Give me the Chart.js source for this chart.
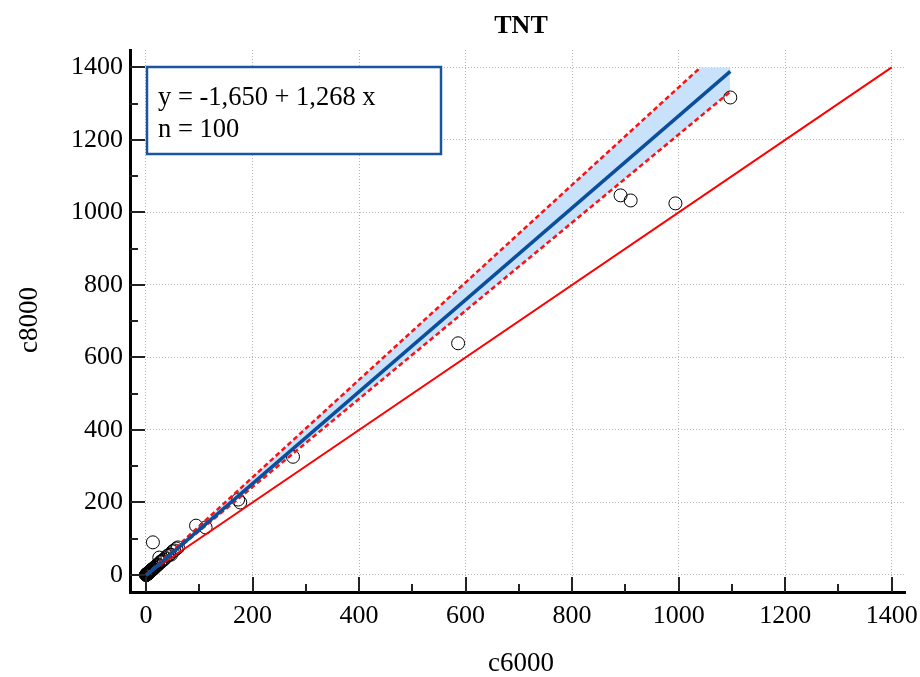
<!DOCTYPE html>
<html>
<head>
<meta charset="utf-8">
<title>TNT</title>
<script src="https://cdn.jsdelivr.net/npm/chart.js@4.4.1/dist/chart.umd.min.js"></script>
<style>
  html, body { margin: 0; padding: 0; background: #fff; }
  canvas { display: block; }
</style>
</head>
<body>
<canvas id="chart" width="920" height="677"></canvas>
<script>
'use strict';

// measured points, c6000 vs c8000 (n = 100, most of them piled up near the origin)
var pointsX = [1097, 891, 910, 994, 586, 276, 173, 177, 94, 112, 13,
  0.2, 0.3, 0.5, 0.6, 0.8, 1.0, 1.1, 1.2, 1.4, 1.5,
  1.7, 1.8, 2.0, 2.1, 2.2, 2.4, 2.5, 2.6, 2.8, 3.0,
  3.1, 3.2, 3.4, 3.5, 3.7, 3.8, 3.9, 4.0, 4.2, 4.3,
  4.5, 4.6, 4.8, 5.0, 5.2, 5.3, 5.5, 5.6, 5.8, 6.0,
  6.2, 6.4, 6.6, 6.8, 7.0, 7.2, 7.5, 7.6, 8.0, 8.3,
  8.5, 8.8, 9.0, 9.4, 9.8, 10.3, 11.0, 11.6, 12.2, 13.0,
  14.0, 15.2, 16.5, 18.0, 19.5, 21.0, 23.0, 25.0, 27.0, 28.0,
  30.0, 33.0, 36.0, 40.0, 44.0, 47.0, 50.0, 53.0, 57.0, 60.0,
  2.3, 4.1, 6.5, 1.3, 3.6, 7.8, 0.9, 5.1, 9.2];
var pointsY = [1317, 1047, 1033, 1025, 639, 326, 208, 200, 136, 131, 90,
  0.4, 0.1, 0.8, 0.5, 1.2, 0.9, 1.6, 1.3, 1.9, 1.6,
  2.3, 2.0, 2.7, 2.4, 3.0, 2.8, 3.3, 3.5, 3.4, 4.0,
  3.7, 4.3, 4.0, 4.6, 4.4, 5.1, 4.7, 5.3, 5.0, 5.7,
  5.4, 6.1, 5.8, 6.6, 6.3, 7.0, 6.6, 7.4, 7.0, 7.9,
  7.5, 8.4, 7.9, 9.0, 8.5, 9.5, 9.0, 10.0, 9.7, 11.0,
  10.3, 11.6, 11.0, 12.4, 12.0, 13.6, 13.4, 15.3, 14.8, 17.1,
  16.9, 20.0, 20.2, 23.0, 25.6, 27.2, 28.8, 48.0, 34.9, 37.0,
  38.5, 42.0, 46.0, 52.5, 56.0, 56.0, 65.0, 67.6, 72.9, 76.0,
  2.6, 5.6, 8.0, 1.6, 4.9, 9.9, 1.3, 6.6, 11.8];

// regression line y = -1,650 + 1,268 x over the range of x
var fitX = [0, 1097];
var fitY = [-1.7, 1389];

// confidence band, upper edge stops at the 1400 line
var upperX = [0, 300, 600, 800, 1000, 1041];
var upperY = [0, 404, 807, 1076, 1345, 1400];
var lowerX = [0, 300, 600, 800, 1000, 1097];
var lowerY = [0, 364, 729, 972, 1215, 1333];
var bandTopX = [0, 300, 600, 800, 1000, 1041, 1097];
var bandTopY = [0, 404, 807, 1076, 1345, 1400, 1400];

// line of identity
var identX = [0, 1400];
var identY = [0, 1400];

var tickValues = [0, 200, 400, 600, 800, 1000, 1200, 1400];
var minorValues = [100, 300, 500, 700, 900, 1100, 1300];

var fitText = ['y = -1,650 + 1,268 x', 'n = 100'];
var titleText = 'TNT';
var xTitle = 'c6000';
var yTitle = 'c8000';

function toXY(xs, ys) {
  var out = [];
  for (var i = 0; i < xs.length; i++) {
    out.push({ x: xs[i], y: ys[i] });
  }
  return out;
}

var SERIF = "'Liberation Serif', 'Times New Roman', serif";

// titles, the fit box and the inward tick marks
var decorPlugin = {
  id: 'decor',
  afterDraw: function (chart) {
    var ctx = chart.ctx;
    var area = chart.chartArea;
    var xs = chart.scales.x;
    var ys = chart.scales.y;
    ctx.save();

    // tick marks pointing into the plot
    ctx.strokeStyle = '#222';
    ctx.lineWidth = 2;
    var all = tickValues.concat(minorValues);
    for (var i = 0; i < all.length; i++) {
      var v = all[i];
      var len = (v % 200 === 0) ? 15 : 8;
      var px = Math.round(xs.getPixelForValue(v));
      ctx.beginPath();
      ctx.moveTo(px, area.bottom);
      ctx.lineTo(px, area.bottom - len);
      ctx.stroke();
      var py = Math.round(ys.getPixelForValue(v));
      ctx.beginPath();
      ctx.moveTo(area.left, py);
      ctx.lineTo(area.left + len, py);
      ctx.stroke();
    }

    // chart title
    ctx.fillStyle = '#000';
    ctx.font = 'bold 26px ' + SERIF;
    ctx.textAlign = 'center';
    ctx.textBaseline = 'middle';
    ctx.fillText(titleText, 521, 26);

    // axis titles
    ctx.font = '27px ' + SERIF;
    ctx.fillText(xTitle, 521, 664);
    ctx.save();
    ctx.translate(30, 320);
    ctx.rotate(-Math.PI / 2);
    ctx.fillText(yTitle, 0, 0);
    ctx.restore();

    // fit box
    var bx = area.left + 17, by = area.top + 17, bw = 294, bh = 87;
    ctx.fillStyle = '#fff';
    ctx.fillRect(bx, by, bw, bh);
    ctx.strokeStyle = '#1a56a0';
    ctx.lineWidth = 2.5;
    ctx.strokeRect(bx, by, bw, bh);
    ctx.fillStyle = '#000';
    ctx.font = '26.5px ' + SERIF;
    ctx.textAlign = 'left';
    ctx.fillText(fitText[0], bx + 11, by + 31);
    ctx.fillText(fitText[1], bx + 11, by + 63);

    ctx.restore();
  }
};

function axisOptions(isY) {
  return {
    type: 'linear',
    afterBuildTicks: function (scale) {
      scale.ticks = tickValues.map(function (v) { return { value: v }; });
    },
    afterFit: function (scale) {
      if (isY) {
        scale.width = 130;
        scale.paddingTop = 0;
        scale.paddingBottom = 0;
      } else {
        scale.height = 85;
        scale.paddingLeft = 0;
        scale.paddingRight = 0;
      }
    },
    ticks: {
      color: '#000',
      font: { family: SERIF, size: 26 },
      padding: isY ? 7 : 9,
      maxRotation: 0,
      autoSkip: false,
      callback: function (value) { return String(value); }
    },
    grid: {
      color: '#b4b4b4',
      lineWidth: 1,
      drawTicks: false
    },
    border: {
      display: true,
      color: '#000',
      width: 3,
      dash: [1, 2]
    },
    title: { display: false }
  };
}

var xAxis = axisOptions(false);
xAxis.min = -30;
xAxis.max = 1425;
var yAxis = axisOptions(true);
yAxis.min = -47;
yAxis.max = 1448;

var ctx = document.getElementById('chart').getContext('2d');
var chart = new Chart(ctx, {
  type: 'scatter',
  data: {
    datasets: [
      {
        // regression line on top
        label: 'fit',
        data: toXY(fitX, fitY),
        showLine: true,
        borderColor: '#0b4f9c',
        borderWidth: 3.5,
        pointRadius: 0,
        order: 1
      },
      {
        label: 'upper',
        data: toXY(upperX, upperY),
        showLine: true,
        borderColor: '#ff1010',
        borderWidth: 2.5,
        borderDash: [5, 3],
        pointRadius: 0,
        order: 2
      },
      {
        label: 'lower',
        data: toXY(lowerX, lowerY),
        showLine: true,
        borderColor: '#ff1010',
        borderWidth: 2.5,
        borderDash: [5, 3],
        pointRadius: 0,
        order: 2
      },
      {
        label: 'identity',
        data: toXY(identX, identY),
        showLine: true,
        borderColor: '#ff0000',
        borderWidth: 2,
        pointRadius: 0,
        order: 3
      },
      {
        label: 'points',
        data: toXY(pointsX, pointsY),
        showLine: false,
        borderColor: '#000',
        backgroundColor: 'rgba(0,0,0,0)',
        borderWidth: 1,
        pointRadius: 6.5,
        order: 4
      },
      {
        label: 'band',
        data: toXY(bandTopX, bandTopY),
        showLine: true,
        borderWidth: 0,
        borderColor: 'rgba(0,0,0,0)',
        backgroundColor: '#c9e2fb',
        pointRadius: 0,
        fill: 2,
        order: 5
      }
    ]
  },
  options: {
    responsive: false,
    animation: false,
    devicePixelRatio: 1,
    layout: { padding: { top: 50, right: 15, left: 0, bottom: 0 } },
    plugins: {
      legend: { display: false },
      tooltip: { enabled: false },
      title: { display: false }
    },
    scales: {
      x: xAxis,
      y: yAxis
    }
  },
  plugins: [decorPlugin]
});
</script>
</body>
</html>
